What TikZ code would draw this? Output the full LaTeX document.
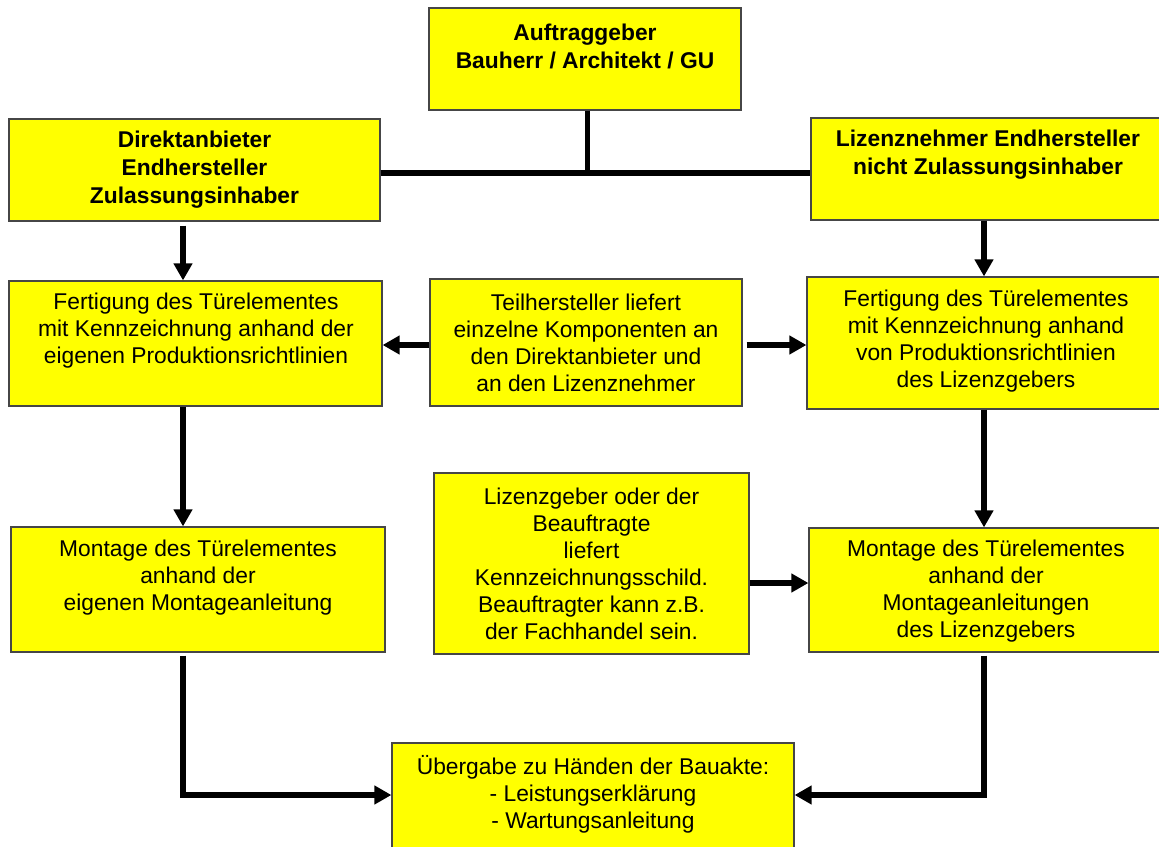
\documentclass[tikz,border=0pt]{standalone}
\usepackage{fontspec}
\setmainfont{Liberation Sans}
\usetikzlibrary{arrows.meta}
\definecolor{yel}{RGB}{255,255,0}
\definecolor{edge}{RGB}{70,70,70}
\begin{document}
\begin{tikzpicture}[x=1pt,y=-1pt,
  box/.style={draw=edge, line width=1.2pt, fill=yel, inner sep=0pt, rectangle},
  txt/.style={inner sep=0pt, align=center, font=\fontsize{22.8}{27}\selectfont},
  txtb/.style={txt, font=\fontsize{22.8}{28}\selectfont\bfseries},
  arr/.style={line width=5.5pt, -{Triangle[length=17pt,width=18pt]}},
  bus/.style={line width=6pt}]
\useasboundingbox (0,0) rectangle (1159,846);
\fill[white] (0,0) rectangle (1159,846);
% boxes
\node[box, minimum width=312pt, minimum height=102pt] (auf) at (585,59) {};
\node[box, minimum width=371pt, minimum height=102pt] (dir) at (194.5,170) {};
\node[box, minimum width=351pt, minimum height=102pt] (liz) at (986.5,169) {};
\node[box, minimum width=373pt, minimum height=125pt] (ferL) at (195.5,343.5) {};
\node[box, minimum width=312pt, minimum height=127pt] (teil) at (586,342.5) {};
\node[box, minimum width=355pt, minimum height=132pt] (ferR) at (984.5,343) {};
\node[box, minimum width=374pt, minimum height=125pt] (monL) at (198,589.5) {};
\node[box, minimum width=315pt, minimum height=181pt] (lzg) at (591.5,563.5) {};
\node[box, minimum width=353pt, minimum height=124pt] (monR) at (985.5,590) {};
\node[box, minimum width=402pt, minimum height=107pt] (ueb) at (593,796.5) {};
% texts
\node[txtb] (auf-t) at (585,46) {Auftraggeber\\Bauherr / Architekt / GU};
\node[txtb] (dir-t) at (194.5,170) {Direktanbieter\\Endhersteller\\Zulassungsinhaber};
\node[txtb] (liz-t) at (988,155) {Lizenznehmer Endhersteller\\nicht Zulassungsinhaber};
\node[txt] (ferL-t) at (196,331) {Fertigung des Türelementes\\mit Kennzeichnung anhand der\\eigenen Produktionsrichtlinien};
\node[txt] (teil-t) at (586,343) {Teilhersteller liefert\\einzelne Komponenten an\\den Direktanbieter und\\an den Lizenznehmer};
\node[txt] (ferR-t) at (986,341) {Fertigung des Türelementes\\mit Kennzeichnung anhand\\von Produktionsrichtlinien\\des Lizenzgebers};
\node[txt] (monL-t) at (198,578) {Montage des Türelementes\\anhand der\\eigenen Montageanleitung};
\node[txt] (lzg-t) at (591.5,564) {Lizenzgeber oder der\\Beauftragte\\liefert\\Kennzeichnungsschild.\\Beauftragter kann z.B.\\der Fachhandel sein.};
\node[txt] (monR-t) at (986,591) {Montage des Türelementes\\anhand der\\Montageanleitungen\\des Lizenzgebers};
\node[txt] (ueb-t) at (593,794) {Übergabe zu Händen der Bauakte:\\- Leistungserklärung\\- Wartungsanleitung};
% helper coordinates
\coordinate (xL) at (183,0);
\coordinate (xR) at (984,0);
\coordinate (xA) at (587,0);
\coordinate (yBus) at (0,173);
\coordinate (yMid) at (0,345);
\coordinate (yLz) at (0,583);
\coordinate (yB) at (0,795);
% bus
\draw[line width=5pt] (auf.south -| xA) -- (yBus -| xA);
\draw[bus] (dir.east |- yBus) -- (liz.west |- yBus);
% arrows
\draw[arr, shorten <=4pt] (dir.south -| xL) -- (ferL.north -| xL);
\draw[arr] (ferL.south -| xL) -- (monL.north -| xL);
\draw[arr] (liz.south -| xR) -- (ferR.north -| xR);
\draw[arr] (ferR.south -| xR) -- (monR.north -| xR);
\draw[arr] (teil.west |- yMid) -- (ferL.east |- yMid);
\draw[arr, shorten <=4pt] (teil.east |- yMid) -- (ferR.west |- yMid);
\draw[arr] (lzg.east |- yLz) -- (monR.west |- yLz);
\draw[arr, shorten <=3pt] (monL.south -| xL) |- (ueb.west |- yB);
\draw[arr, shorten <=3pt] (monR.south -| xR) |- (ueb.east |- yB);
\end{tikzpicture}
\end{document}
